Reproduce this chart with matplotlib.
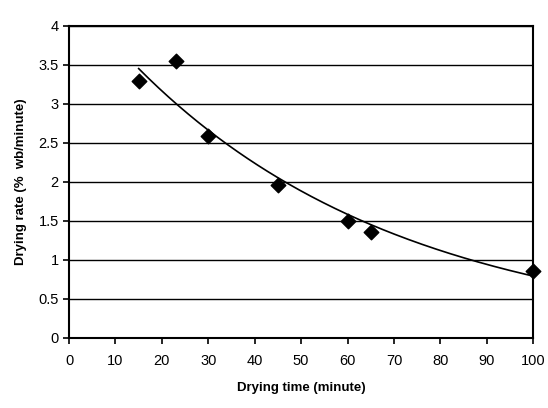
import numpy as np
import matplotlib
matplotlib.use('Agg')
import matplotlib.pyplot as plt

plt.rcParams['font.family'] = ['Liberation Sans', 'DejaVu Sans']

# meetpunten
drying_time = [15, 23, 30, 45, 60, 65, 100]
drying_rate = [3.29, 3.55, 2.59, 1.96, 1.50, 1.36, 0.85]

x_ticks = [0, 10, 20, 30, 40, 50, 60, 70, 80, 90, 100]
y_ticks = [0, 0.5, 1, 1.5, 2, 2.5, 3, 3.5, 4]

fig = plt.figure(figsize=(5.48, 4.08), dpi=100)
ax = fig.add_axes([0.126, 0.172, 0.847, 0.765])

# exponentiele trendlijn (zoals Excel)
b, ln_a = np.polyfit(drying_time, np.log(drying_rate), 1)
xs = np.linspace(min(drying_time), max(drying_time), 200)
ax.plot(xs, np.exp(ln_a + b * xs), color='black', lw=1.2, zorder=3)

ax.scatter(drying_time, drying_rate, marker='D', s=55, color='black', zorder=4, clip_on=False)

ax.set_xlim(0, 100)
ax.set_ylim(0, 4)
ax.set_xticks(x_ticks)
ax.set_yticks(y_ticks)
ax.set_yticklabels([f'{v:g}' for v in y_ticks])
ax.yaxis.grid(True, color='black', lw=1)
ax.set_axisbelow(True)
for s in ax.spines.values():
    s.set_linewidth(1.5)
ax.tick_params(direction='out', length=4, width=1.2, labelsize=10.5, colors='black')
ax.tick_params(axis='x', pad=8)

ax.set_xlabel('Drying time (minute)', fontsize=9.5, fontweight='bold', labelpad=10)
ax.set_ylabel('Drying rate (%  wb/minute)', fontsize=9.5, fontweight='bold', labelpad=8)

fig.savefig('out.png', dpi=100)
